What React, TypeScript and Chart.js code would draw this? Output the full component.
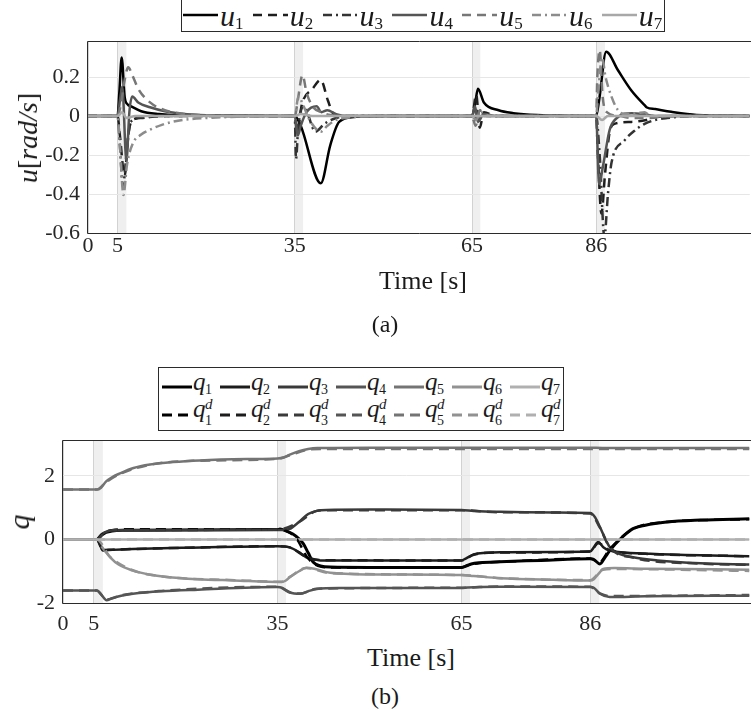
import React, { useEffect, useRef } from 'react';
import { Chart, registerables } from 'chart.js';
Chart.register(...registerables);

type Pt = [number, number];

// ---------- shared axis data ----------
const X_MAX = 112;
const xTicks = [0, 5, 35, 65, 86];
const uTicks = [-0.6, -0.4, -0.2, 0, 0.2];
const qTicks = [-2, 0, 2];
const eventBands: Pt[] = [[5, 6.5], [35, 36.4], [65, 66.4], [86, 87.5]];

// ---------- (a) joint velocity commands u ----------
const u1: Pt[] = [[0, 0], [5, 0], [5.3, 0.12], [5.7, 0.3], [6.2, 0.1], [6.7, 0.06], [7.3, 0.05], [9, 0.025], [12, 0.01], [16, 0.003], [35, 0], [36, -0.05], [39.4, -0.345], [41, -0.15], [42.5, -0.03], [45, -0.005], [50, 0], [65, 0], [65.5, 0.06], [66, 0.14], [67, 0.07], [69.5, 0.03], [72, 0.015], [76, 0.005], [86, 0], [86.5, 0.08], [87.7, 0.33], [89.7, 0.235], [92, 0.13], [94.2, 0.056], [94.6, 0.044], [96, 0.036], [98.7, 0.022], [103, 0.006], [112, 0]];
const u2: Pt[] = [[0, 0], [5, 0], [5.4, -0.1], [6.2, -0.31], [6.8, -0.1], [7.5, -0.02], [10, -0.005], [14, 0], [35, 0], [35.4, -0.08], [36.2, 0.06], [38, 0.14], [39.4, 0.185], [40.6, 0.08], [41.6, 0.01], [44, 0], [65, 0], [65.7, 0.11], [66.3, -0.06], [67, 0.02], [69, 0], [86, 0], [86.3, -0.2], [86.9, -0.5], [87.5, -0.3], [88.3, -0.08], [89.1, -0.04], [92, -0.03], [94.5, -0.02], [96, -0.005], [100, 0], [112, 0]];
const u3: Pt[] = [[0, 0], [5, 0], [5.4, -0.15], [5.9, -0.36], [6.5, -0.2], [7.2, -0.03], [9, -0.01], [12, 0], [35, 0], [35.2, -0.22], [35.6, -0.05], [36.5, 0.05], [38.5, -0.08], [40, -0.04], [42, -0.01], [45, 0], [65, 0], [65.5, -0.03], [66, 0.04], [67, 0], [86, 0], [86.6, -0.2], [87.4, -0.62], [88, -0.4], [88.6, -0.24], [90.8, -0.125], [92.5, -0.075], [94.2, -0.04], [96, -0.02], [98, -0.01], [102, 0], [112, 0]];
const u4: Pt[] = [[0, 0], [5, 0], [5.4, 0.08], [5.8, 0.15], [6.5, -0.23], [7.0, 0.02], [7.5, 0.1], [8.5, 0.07], [10.5, 0.045], [13, 0.025], [16, 0.012], [20, 0.004], [25, 0], [35, 0], [35.5, -0.1], [36, -0.05], [37, 0.02], [38.7, 0.05], [39.5, 0.02], [40.5, 0.03], [42, 0.01], [44, 0], [65, 0], [65.5, 0.05], [66, -0.03], [67, 0.01], [69, 0], [86, 0], [86.5, -0.35], [87.2, -0.25], [88.3, -0.07], [89.5, -0.01], [92, 0.015], [94, 0.01], [96, 0], [112, 0]];
const u5: Pt[] = [[0, 0], [5, 0], [5.5, 0.05], [6.3, 0.2], [6.8, 0.25], [7.5, 0.21], [8.5, 0.14], [10.5, 0.07], [13, 0.03], [16, 0.012], [20, 0.004], [25, 0], [35, 0], [35.5, 0.08], [36.3, 0.21], [37, 0.12], [38, 0.05], [39.5, 0.02], [41, 0.005], [43, 0], [65, 0], [65.6, -0.05], [66.3, 0.03], [67.5, 0], [86, 0], [86.2, 0.2], [86.6, 0.34], [87.1, 0.1], [87.8, 0.02], [90, 0], [92, -0.01], [95, -0.01], [98, 0], [112, 0]];
const u6: Pt[] = [[0, 0], [5, 0], [5.4, -0.15], [6.0, -0.405], [6.6, -0.25], [7.6, -0.14], [9, -0.095], [10.5, -0.07], [12.5, -0.045], [15, -0.025], [20, -0.01], [26, -0.003], [32, 0], [35, 0], [35.6, 0.1], [36.5, 0.05], [37.5, -0.02], [39.4, -0.08], [40.5, -0.05], [42, -0.02], [45, -0.005], [48, 0], [65, 0], [65.7, -0.02], [66.5, 0.02], [68, 0], [86, 0], [86.3, 0.1], [87, 0.3], [87.6, 0.2], [88.6, 0.1], [89.7, 0.03], [91, 0.01], [93, 0.015], [94.2, 0.02], [95, 0.005], [97, 0], [112, 0]];
const u7: Pt[] = [[0, 0], [5, 0], [5.8, 0.02], [6.5, -0.01], [8, 0], [35, 0], [36, 0.01], [38, 0], [65, 0], [86, 0], [87, -0.02], [88, 0], [112, 0]];

// ---------- (b) joint positions q and references q^d ----------
const q1: Pt[] = [[0, 0], [5.5, 0], [6.2, 0.12], [7, 0.22], [8, 0.27], [10, 0.29], [20, 0.3], [35, 0.31], [35.4, 0.33], [36.5, 0.26], [37.5, 0.17], [38.5, 0.02], [39.2, -0.13], [40, -0.42], [40.8, -0.71], [42, -0.83], [43.6, -0.87], [50, -0.88], [65, -0.88], [65.7, -0.84], [66.6, -0.77], [68, -0.73], [71.3, -0.7], [78, -0.66], [86, -0.61], [86.5, -0.62], [87.6, -0.77], [88.4, -0.57], [89.2, -0.35], [91, 0.03], [93, 0.34], [95, 0.45], [98.5, 0.55], [104, 0.61], [112, 0.65]];
const q2: Pt[] = [[0, 0], [5.5, 0], [6, -0.15], [6.5, -0.35], [7.5, -0.33], [11.4, -0.3], [20, -0.26], [35, -0.21], [36, -0.22], [37, -0.25], [38.5, -0.4], [39.7, -0.56], [41, -0.63], [42, -0.66], [65, -0.66], [65.7, -0.6], [67, -0.47], [69, -0.42], [71.3, -0.4], [86, -0.38], [86.6, -0.25], [87.3, -0.08], [88.2, -0.25], [89.2, -0.35], [91, -0.4], [95.8, -0.45], [104, -0.5], [112, -0.53]];
const q3: Pt[] = [[0, 0], [5.5, 0], [6.2, 0.15], [7, 0.24], [8, 0.28], [10, 0.29], [20, 0.3], [35, 0.3], [36, 0.3], [37, 0.33], [38.5, 0.55], [40, 0.8], [41.4, 0.9], [43, 0.93], [50, 0.94], [65, 0.93], [67, 0.9], [71.3, 0.87], [80, 0.85], [86, 0.83], [86.8, 0.7], [87.6, 0.39], [88.4, 0.05], [89.2, -0.24], [90.5, -0.43], [93, -0.56], [97, -0.66], [104, -0.75], [112, -0.79]];
const q4: Pt[] = [[0, -1.61], [5.5, -1.61], [6.3, -1.75], [7.1, -1.91], [8, -1.85], [9.5, -1.77], [11.4, -1.71], [16, -1.63], [22, -1.58], [35, -1.5], [35.7, -1.52], [37, -1.67], [38.7, -1.71], [40, -1.63], [41.4, -1.56], [45, -1.53], [65, -1.53], [66, -1.51], [71.3, -1.49], [86, -1.5], [86.6, -1.52], [87.6, -1.71], [89.2, -1.81], [95, -1.79], [112, -1.77]];
const q5: Pt[] = [[0, 1.57], [5.5, 1.57], [6.2, 1.63], [7, 1.82], [8, 1.96], [9.3, 2.08], [11.5, 2.25], [14.2, 2.36], [18, 2.44], [22.3, 2.49], [30, 2.53], [35, 2.55], [36, 2.58], [37, 2.67], [38.5, 2.78], [40, 2.85], [41.5, 2.88], [50, 2.89], [65, 2.89], [86, 2.89], [88, 2.88], [112, 2.88]];
const q6: Pt[] = [[0, 0], [5.5, 0], [6.2, -0.2], [7, -0.4], [7.7, -0.56], [9, -0.78], [11.4, -0.98], [14, -1.1], [16.9, -1.18], [22, -1.25], [27.8, -1.29], [35.7, -1.34], [36.3, -1.3], [37, -1.19], [38.5, -1.0], [39.7, -0.89], [41, -0.92], [43.6, -1.05], [50, -1.1], [65, -1.12], [67, -1.15], [71.3, -1.22], [80, -1.27], [86, -1.29], [86.6, -1.25], [87.5, -1.05], [88.1, -0.93], [90, -0.9], [95, -0.92], [112, -0.95]];
const q7: Pt[] = [[0, 0], [5, 0], [35, 0], [65, 0], [86, 0], [112, 0]];

const q1d: Pt[] = [[0, 0], [5.5, 0], [6.5, 0.18], [8, 0.29], [10, 0.32], [35, 0.32], [36, 0.3], [38, 0.05], [40, -0.6], [42, -0.85], [44, -0.88], [65, -0.88], [66, -0.82], [68, -0.74], [72, -0.7], [86, -0.6], [87.5, -0.72], [89.2, -0.3], [93, 0.33], [98, 0.54], [112, 0.64]];
const q2d: Pt[] = [[0, 0], [5.5, 0], [6.5, -0.33], [8, -0.32], [20, -0.26], [35, -0.21], [37, -0.25], [39.7, -0.55], [42, -0.65], [65, -0.66], [67, -0.48], [71, -0.41], [86, -0.38], [87.3, -0.12], [89.2, -0.34], [95, -0.45], [112, -0.53]];
const q3d: Pt[] = [[0, 0], [5.5, 0], [7, 0.25], [10, 0.3], [35, 0.31], [38.5, 0.55], [41.4, 0.9], [43, 0.92], [65, 0.92], [71, 0.86], [86, 0.82], [87.6, 0.37], [89.2, -0.25], [93, -0.57], [104, -0.76], [112, -0.8]];
const q4d: Pt[] = [[0, -1.61], [5.5, -1.61], [7.1, -1.89], [9.5, -1.76], [16, -1.62], [35, -1.49], [37, -1.66], [38.7, -1.7], [41.4, -1.55], [65, -1.52], [71, -1.48], [86, -1.49], [87.6, -1.7], [89.2, -1.78], [112, -1.75]];
const q5d: Pt[] = [[0, 1.57], [5.5, 1.57], [7, 1.8], [9.3, 2.06], [14.2, 2.35], [22, 2.48], [35, 2.54], [37, 2.65], [40, 2.83], [42, 2.85], [112, 2.85]];
const q6d: Pt[] = [[0, 0], [5.5, 0], [7.7, -0.55], [11.4, -0.97], [17, -1.18], [28, -1.28], [35.7, -1.33], [37, -1.18], [39.7, -0.9], [43.6, -1.06], [65, -1.12], [71, -1.21], [86, -1.28], [88.1, -0.95], [90, -0.93], [112, -0.99]];
const q7d: Pt[] = [[0, 0], [5, 0], [35, 0], [65, 0], [86, 0], [112, 0]];

const uSeries = [u1, u2, u3, u4, u5, u6, u7];
const qSeries = [q1, q2, q3, q4, q5, q6, q7];
const qdSeries = [q1d, q2d, q3d, q4d, q5d, q6d, q7d];
const idx = ['1', '2', '3', '4', '5', '6', '7'];

// ---------- styles ----------
const SERIF = '"Liberation Serif", "DejaVu Serif", "Noto Serif", serif';
const TXT = '#262626';
const TICK_SIZE = 22;
const uColors = ['#000000', '#1e1e1e', '#333333', '#555555', '#777777', '#8c8c8c', '#a8a8a8'];
const uDash: number[][] = [[], [9, 6], [9, 4, 2, 4], [], [9, 6], [9, 4, 2, 4], []];
const qColors = ['#000000', '#1c1c1c', '#3a3a3a', '#555555', '#747474', '#929292', '#b0b0b0'];
const qDash = [10, 6];

const makeFrame = (bands: Pt[]) => ({
  id: 'frameBands',
  beforeDraw(chart: any) {
    const { ctx, chartArea: a, scales } = chart;
    const x = scales.x;
    ctx.save();
    ctx.fillStyle = '#efefef';
    for (const [s, e] of bands) {
      const x0 = x.getPixelForValue(s);
      const x1 = x.getPixelForValue(e);
      ctx.fillRect(x0, a.top, x1 - x0, a.bottom - a.top);
    }
    ctx.restore();
  },
  afterDraw(chart: any) {
    const { ctx, chartArea: a } = chart;
    ctx.save();
    ctx.strokeStyle = '#2b2b2b';
    ctx.lineWidth = 1;
    ctx.beginPath();
    ctx.moveTo(a.right + 2, a.top - 0.5);
    ctx.lineTo(a.left - 0.5, a.top - 0.5);
    ctx.lineTo(a.left - 0.5, a.bottom + 0.5);
    ctx.lineTo(a.right + 2, a.bottom + 0.5);
    ctx.stroke();
    ctx.restore();
  },
});

function axes(yMin: number, yMax: number, yTicks: number[], yWidth: number, xHeight: number, xPad: number) {
  return {
    x: {
      type: 'linear',
      min: 0,
      max: X_MAX,
      afterBuildTicks: (ax: any) => { ax.ticks = xTicks.map((v) => ({ value: v })); },
      afterFit: (ax: any) => { ax.height = xHeight; },
      ticks: { font: { family: SERIF, size: TICK_SIZE }, color: TXT, padding: xPad, maxRotation: 0, autoSkip: false, callback: (v: any) => String(v) },
      grid: { color: '#d2d2d2', drawTicks: false, lineWidth: 1 },
      border: { display: false },
    },
    y: {
      type: 'linear',
      min: yMin,
      max: yMax,
      afterBuildTicks: (ax: any) => { ax.ticks = yTicks.map((v) => ({ value: v })); },
      afterFit: (ax: any) => { ax.width = yWidth; },
      ticks: { font: { family: SERIF, size: TICK_SIZE }, color: TXT, padding: 8, autoSkip: false, callback: (v: any) => (v === 0 ? '0' : Number.isInteger(v) ? String(v) : v.toFixed(1)) },
      grid: { color: '#e6e6e6', drawTicks: false, lineWidth: 1 },
      border: { display: false },
    },
  };
}

function Txt({ x, b, size, italic, children, center, color }: any) {
  return (
    <span
      style={{
        position: 'absolute',
        left: x,
        top: b - 0.8375 * size,
        fontSize: size,
        lineHeight: size + 'px',
        fontFamily: SERIF,
        fontStyle: italic ? 'italic' : 'normal',
        whiteSpace: 'nowrap',
        color: color || '#1a1a1a',
        transform: center ? 'translateX(-50%)' : undefined,
      }}
    >
      {children}
    </span>
  );
}

function Sample({ x, y, len, color, dash, lw }: any) {
  return (
    <svg style={{ position: 'absolute', left: x, top: y - 4 }} width={len} height={8}>
      <line x1={0} y1={4} x2={len} y2={4} stroke={color} strokeWidth={lw} strokeDasharray={dash && dash.length ? dash.join(' ') : undefined} />
    </svg>
  );
}

export default function App() {
  const refA = useRef<HTMLCanvasElement>(null);
  const refB = useRef<HTMLCanvasElement>(null);

  useEffect(() => {
    const chartA = new Chart(refA.current as HTMLCanvasElement, {
      type: 'line',
      data: {
        datasets: uSeries.map((s, i) => ({
          label: 'u' + idx[i],
          data: s.map(([x, y]) => ({ x, y })),
          borderColor: uColors[i],
          borderWidth: 2.5,
          borderDash: uDash[i],
          pointRadius: 0,
          fill: false,
          cubicInterpolationMode: 'monotone',
          clip: 0,
          order: 10 - i,
        })),
      },
      options: {
        responsive: false,
        animation: false,
        events: [],
        layout: { padding: { top: 42, left: 0, right: 0, bottom: 0 } },
        plugins: { legend: { display: false }, tooltip: { enabled: false } },
        scales: axes(-0.6, 0.38, uTicks, 88, 37, 0) as any,
      },
      plugins: [makeFrame(eventBands)],
    } as any);

    const qds = qSeries.map((s, i) => ({
      label: 'q' + idx[i],
      data: s.map(([x, y]) => ({ x, y })),
      borderColor: qColors[i],
      borderWidth: i === 0 ? 3 : 2.5,
      borderDash: [],
      pointRadius: 0,
      fill: false,
      cubicInterpolationMode: 'monotone',
      clip: 0,
      order: 30 - i,
    }));
    const qdds = qdSeries.map((s, i) => ({
      label: 'q' + idx[i] + 'd',
      data: s.map(([x, y]) => ({ x, y })),
      borderColor: qColors[i],
      borderWidth: 2.5,
      borderDash: qDash,
      pointRadius: 0,
      fill: false,
      cubicInterpolationMode: 'monotone',
      clip: 0,
      order: 20 - i,
    }));
    const chartB = new Chart(refB.current as HTMLCanvasElement, {
      type: 'line',
      data: { datasets: [...qds, ...qdds] },
      options: {
        responsive: false,
        animation: false,
        events: [],
        layout: { padding: { top: 111, left: 0, right: 0, bottom: 0 } },
        plugins: { legend: { display: false }, tooltip: { enabled: false } },
        scales: axes(-2, 3.1, qTicks, 63, 37, 8) as any,
      },
      plugins: [makeFrame(eventBands)],
    } as any);

    let alive = true;
    const fonts: any = (document as any).fonts;
    if (fonts && fonts.load) {
      Promise.all([fonts.load('22px "Liberation Serif"'), fonts.load('italic 22px "Liberation Serif"')])
        .then(() => fonts.ready)
        .then(() => {
          if (alive) {
            chartA.update();
            chartB.update();
          }
        })
        .catch(() => {});
    }

    return () => {
      alive = false;
      chartA.destroy();
      chartB.destroy();
    };
  }, []);

  const topPitch = 69.8;
  const botPitch = 58;

  return (
    <div style={{ position: 'absolute', left: 0, top: 0, width: 751, height: 710, background: '#fff', overflow: 'hidden' }}>
      <canvas ref={refA} width={751} height={270} style={{ position: 'absolute', left: 0, top: 0, width: 751, height: 270 }} />
      <canvas ref={refB} width={751} height={310} style={{ position: 'absolute', left: 0, top: 330, width: 751, height: 310 }} />

      {/* (a) titles */}
      <div style={{ position: 'absolute', left: 28, top: 138, transform: 'translate(-50%, -50%) rotate(-90deg)', fontFamily: SERIF, fontSize: 28, fontStyle: 'italic', whiteSpace: 'nowrap', color: '#1a1a1a', lineHeight: '28px' }}>
        u<span style={{ fontStyle: 'normal' }}>[</span>rad/s<span style={{ fontStyle: 'normal' }}>]</span>
      </div>
      <Txt x={423} b={290} size={26} center>Time [s]</Txt>
      <Txt x={385} b={332} size={24} center>(a)</Txt>

      {/* (a) legend */}
      <div style={{ position: 'absolute', left: 181, top: -1, width: 484, height: 33, border: '1px solid #2b2b2b', boxSizing: 'border-box', background: '#fff' }} />
      {uSeries.map((_, i) => {
        const sx = 183 + i * topPitch;
        return (
          <React.Fragment key={'ul' + i}>
            <Sample x={sx} y={15} len={35} color={uColors[i]} dash={uDash[i]} lw={2.5} />
            <Txt x={sx + 37} b={26} size={30} italic>u</Txt>
            <Txt x={sx + 52} b={29} size={17}>{idx[i]}</Txt>
          </React.Fragment>
        );
      })}

      {/* (b) titles */}
      <div style={{ position: 'absolute', left: 19, top: 522, transform: 'translate(-50%, -50%) rotate(-90deg)', fontFamily: SERIF, fontSize: 30, fontStyle: 'italic', whiteSpace: 'nowrap', color: '#1a1a1a', lineHeight: '30px' }}>q</div>
      <Txt x={411} b={667} size={26} center>Time [s]</Txt>
      <Txt x={385} b={704} size={24} center>(b)</Txt>

      {/* (b) legend */}
      <div style={{ position: 'absolute', left: 158, top: 367, width: 406, height: 64, border: '1px solid #2b2b2b', boxSizing: 'border-box', background: '#fff' }} />
      {qSeries.map((_, i) => {
        const sx = 162 + i * botPitch;
        return (
          <React.Fragment key={'ql' + i}>
            <Sample x={sx} y={387} len={30} color={qColors[i]} dash={[]} lw={3} />
            <Txt x={sx + 31} b={390} size={25} italic>q</Txt>
            <Txt x={sx + 43} b={395} size={14}>{idx[i]}</Txt>
            <Sample x={sx} y={415} len={30} color={qColors[i]} dash={qDash} lw={3} />
            <Txt x={sx + 31} b={417} size={25} italic>q</Txt>
            <Txt x={sx + 43} b={410} size={15} italic>d</Txt>
            <Txt x={sx + 43} b={426} size={14}>{idx[i]}</Txt>
          </React.Fragment>
        );
      })}
    </div>
  );
}
